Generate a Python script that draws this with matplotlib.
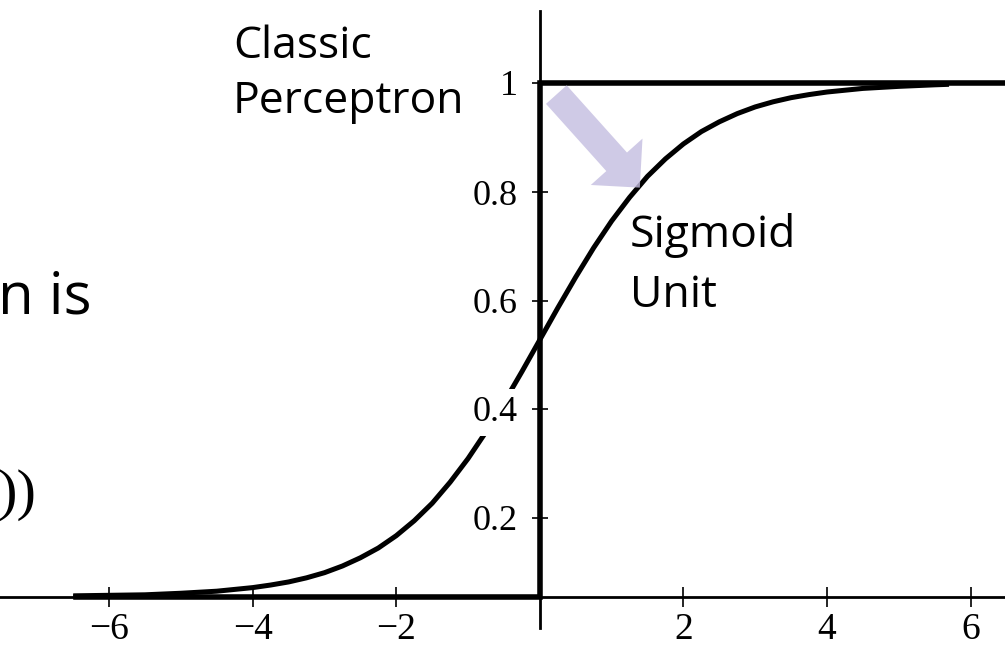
import matplotlib
matplotlib.use("Agg")
import matplotlib.pyplot as plt
from matplotlib.patches import FancyArrowPatch, ArrowStyle

# sigmoid curve
sig_x = [-6.5, -6.0, -5.5, -5.0, -4.5, -4.0, -3.75, -3.5, -3.25, -3.0, -2.75, -2.5, -2.25,
         -2.0, -1.75, -1.5, -1.25, -1.0, -0.75, -0.5, -0.25, 0.0, 0.25, 0.5, 0.75, 1.0,
         1.25, 1.5, 1.75, 2.0, 2.25, 2.5, 2.75, 3.0, 3.25, 3.5, 3.75, 4.0, 4.5, 5.0, 5.5, 5.7]
sig_y = [0.002, 0.003, 0.004, 0.007, 0.011, 0.018, 0.023, 0.029, 0.037, 0.047, 0.060, 0.076, 0.095,
         0.119, 0.148, 0.182, 0.223, 0.269, 0.321, 0.378, 0.438, 0.500, 0.562, 0.622, 0.679, 0.731,
         0.777, 0.818, 0.852, 0.881, 0.905, 0.924, 0.940, 0.953, 0.963, 0.971, 0.977, 0.982, 0.989,
         0.993, 0.996, 0.997]

# classic perceptron (step function)
step_x = [-6.46, 0.0, 0.0, 6.6]
step_y = [0.0, 0.0, 1.0, 1.0]

xtick_vals = [-6, -4, -2, 2, 4, 6]
xtick_labels = ["\u22126", "\u22124", "\u22122", "2", "4", "6"]
# y tick marks sit where the picture shows them
ytick_pos = [0.154, 0.366, 0.576, 0.787, 1.0]
ytick_labels = ["0.2", "0.4", "0.6", "0.8", "1"]

W, H = 1005, 657
fig = plt.figure(figsize=(W / 100, H / 100), dpi=100)
ax = fig.add_axes([0, 0, 1, 1])
ax.set_xlim(-7.52, 6.48)
ax.set_ylim(-0.117, 1.161)
ax.set_axisbelow(False)

for s in ["top", "right"]:
    ax.spines[s].set_visible(False)
ax.spines["bottom"].set_position(("data", 0))
ax.spines["left"].set_position(("data", 0))
ax.spines["bottom"].set_linewidth(2)
ax.spines["left"].set_linewidth(2)
ax.spines["left"].set_bounds(-0.06, 1.14)

ax.plot(step_x, step_y, color="black", lw=4, solid_joinstyle="miter", zorder=2)
ax.plot(sig_x, sig_y, color="black", lw=3.6, solid_capstyle="butt", zorder=2)

ax.set_xticks(xtick_vals)
ax.set_xticklabels(xtick_labels, family="Liberation Serif")
ax.set_yticks(ytick_pos)
ax.set_yticklabels(ytick_labels, family="Liberation Serif")
ax.tick_params(axis="x", direction="inout", length=14, width=1.2, labelsize=27, pad=4)
ax.tick_params(axis="y", direction="inout", length=11.5, width=1.2, labelsize=26, pad=10)
for lbl in ax.get_yticklabels():
    # white box behind labels, it breaks the curve at 0.4 like the original
    lbl.set_bbox(dict(facecolor="white", edgecolor="none", pad=5))

arrow = FancyArrowPatch(posA=(0.23, 0.977), posB=(1.393, 0.796),
                        arrowstyle=ArrowStyle("simple", head_length=0.25, head_width=0.5, tail_width=0.2),
                        mutation_scale=100, shrinkA=0, shrinkB=0,
                        facecolor="#c4bde0", edgecolor="none", alpha=0.8, zorder=3)
ax.add_patch(arrow)

sans = "Open Sans"
fig.text(233 / W, 1 - 58 / H, "Classic", fontsize=32, family=sans, va="baseline")
fig.text(233 / W, 1 - 113 / H, "Perceptron", fontsize=32, family=sans, va="baseline")
fig.text(630 / W, 1 - 247 / H, "Sigmoid", fontsize=32, family=sans, va="baseline")
fig.text(630 / W, 1 - 307 / H, "Unit", fontsize=32, family=sans, va="baseline")
fig.text(91 / W, 1 - 313 / H, "n is", fontsize=42, family=sans, va="baseline", ha="right")
fig.text(36 / W, 1 - 509 / H, "))", fontsize=42, family="Liberation Serif", va="baseline", ha="right")

fig.savefig("out.png", dpi=100)
